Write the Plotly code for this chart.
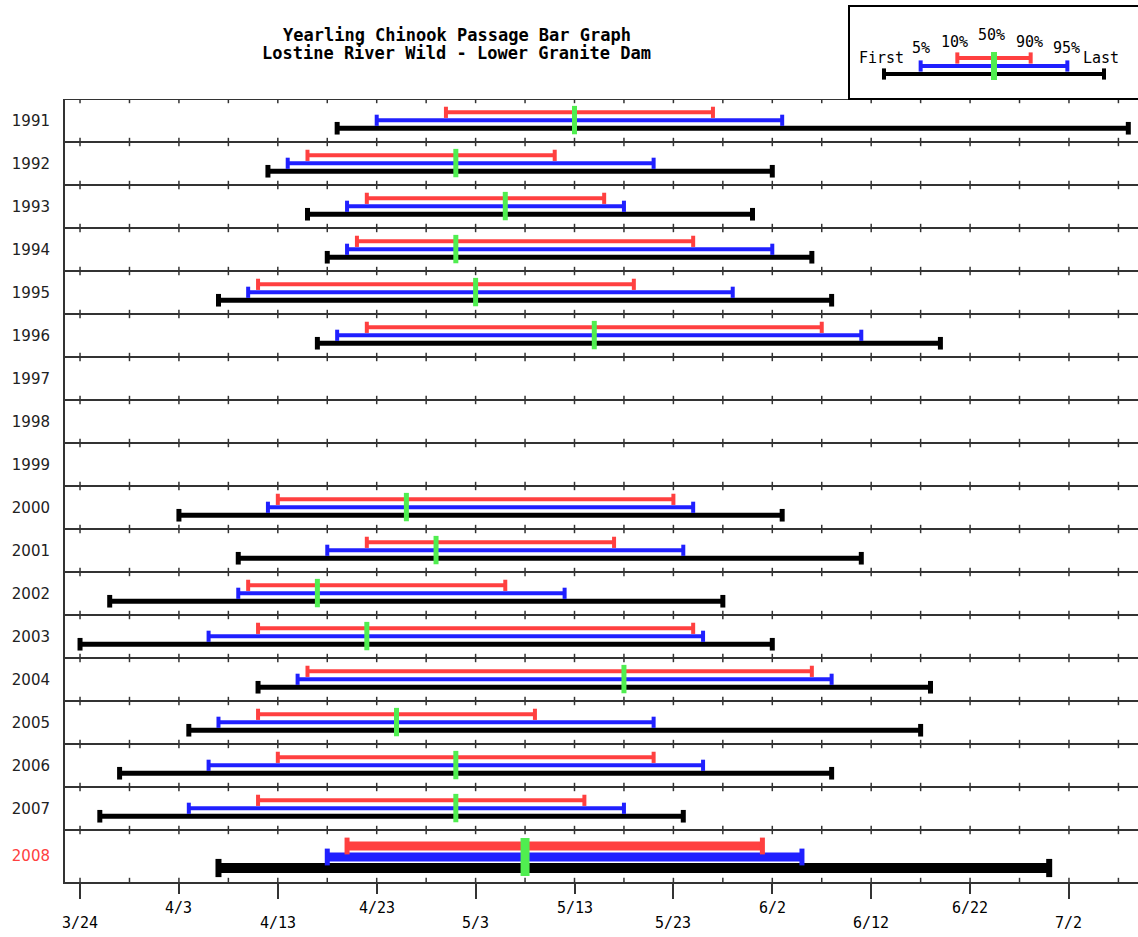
import plotly.graph_objects as go
from datetime import date

# ---------------- data ----------------
years = [1991, 1992, 1993, 1994, 1995, 1996, 1997, 1998, 1999,
         2000, 2001, 2002, 2003, 2004, 2005, 2006, 2007, 2008]
first = ["4/19", "4/12", "4/16", "4/18", "4/7", "4/17", None, None, None,
         "4/3", "4/9", "3/27", "3/24", "4/11", "4/4", "3/28", "3/26", "4/7"]
p5 = ["4/23", "4/14", "4/20", "4/20", "4/10", "4/19", None, None, None,
      "4/12", "4/18", "4/9", "4/6", "4/15", "4/7", "4/6", "4/4", "4/18"]
p10 = ["4/30", "4/16", "4/22", "4/21", "4/11", "4/22", None, None, None,
       "4/13", "4/22", "4/10", "4/11", "4/16", "4/11", "4/13", "4/11", "4/20"]
p50 = ["5/13", "5/1", "5/6", "5/1", "5/3", "5/15", None, None, None,
       "4/26", "4/29", "4/17", "4/22", "5/18", "4/25", "5/1", "5/1", "5/8"]
p90 = ["5/27", "5/11", "5/16", "5/25", "5/19", "6/7", None, None, None,
       "5/23", "5/17", "5/6", "5/25", "6/6", "5/9", "5/21", "5/14", "6/1"]
p95 = ["6/3", "5/21", "5/18", "6/2", "5/29", "6/11", None, None, None,
       "5/25", "5/24", "5/12", "5/26", "6/8", "5/21", "5/26", "5/18", "6/5"]
last = ["7/8", "6/2", "5/31", "6/6", "6/8", "6/19", None, None, None,
        "6/3", "6/11", "5/28", "6/2", "6/18", "6/17", "6/8", "5/24", "6/30"]
current_year = 2008

tick_upper = ["4/3", "4/23", "5/13", "6/2", "6/22"]
tick_lower = ["3/24", "4/13", "5/3", "5/23", "6/12", "7/2"]

legend_keys = ["First", "5%", "10%", "50%", "90%", "95%", "Last"]

title_lines = ["Yearling Chinook Passage Bar Graph",
               "Lostine River Wild - Lower Granite Dam"]

# ---------------- helpers ----------------
SEASON_START = date(2001, 3, 24)


def day(md):
    if md is None:
        return None
    m, d = (int(v) for v in md.split("/"))
    return (date(2001, m, d) - SEASON_START).days


RED, BLUE, BLACK, GREEN = "#ff4040", "#2020ff", "#000000", "#50ee50"
GRID = "#333333"
MONO = "DejaVu Sans Mono"
SANS = "DejaVu Sans"

# row geometry (1 unit = one normal row, current year row is taller)
BIG = 52 / 43
row_top = []
t = 0.0
for yr in years:
    row_top.append(t)
    t += BIG if yr == current_year else 1.0
y_bottom = t
boundaries = row_top + [y_bottom]
centers = [rt + ((BIG if yr == current_year else 1.0) / 2) for rt, yr in zip(row_top, years)]

NORMAL = dict(red=0.31, blue=0.495, black=0.68, g0=0.16, g1=0.82,
              w_rb=4, w_k=5, cap=8, capw=4, gw=5)
LARGE = dict(red=0.372, blue=0.628, black=0.884, g0=0.186, g1=1.07,
             w_rb=9, w_k=10, cap=12, capw=5, gw=9)

fig = go.Figure()


def add_segments(starts, ends, ys, color, width, cap, capw, xaxis="x", yaxis="y"):
    xs, yv = [], []
    for a, b, y in zip(starts, ends, ys):
        xs += [a, b, None]
        yv += [y, y, None]
    fig.add_trace(go.Scatter(
        x=xs, y=yv, mode="lines+markers", xaxis=xaxis, yaxis=yaxis,
        line=dict(color=color, width=width),
        marker=dict(symbol="line-ns", size=cap, color=color,
                    line=dict(color=color, width=capw)),
        hoverinfo="skip", showlegend=False, cliponaxis=False))


def add_medians(xs_, y0s, y1s, color, width, xaxis="x", yaxis="y"):
    xs, yv = [], []
    for x, a, b in zip(xs_, y0s, y1s):
        xs += [x, x, None]
        yv += [a, b, None]
    fig.add_trace(go.Scatter(
        x=xs, y=yv, mode="lines", xaxis=xaxis, yaxis=yaxis,
        line=dict(color=color, width=width),
        hoverinfo="skip", showlegend=False, cliponaxis=False))


# separator tick crosses (every 5 days on every row boundary)
five = list(range(0, 110, 5))
cx, cy = [], []
for b in boundaries:
    for f in five:
        cx.append(f)
        cy.append(b)
fig.add_trace(go.Scatter(
    x=cx, y=cy, mode="markers", xaxis="x3", yaxis="y",
    marker=dict(symbol="line-ns", size=6, color=GRID, line=dict(color=GRID, width=1.5)),
    hoverinfo="skip", showlegend=False, cliponaxis=True))

for group, style in ((False, NORMAL), (True, LARGE)):
    idx = [i for i, yr in enumerate(years)
           if (yr == current_year) == group and first[i] is not None]
    tops = [row_top[i] for i in idx]
    add_segments([day(first[i]) for i in idx], [day(last[i]) for i in idx],
                 [tp + style["black"] for tp in tops], BLACK, style["w_k"],
                 style["cap"] + 1, style["capw"] + 1)
    add_segments([day(p5[i]) for i in idx], [day(p95[i]) for i in idx],
                 [tp + style["blue"] for tp in tops], BLUE, style["w_rb"],
                 style["cap"], style["capw"])
    add_segments([day(p10[i]) for i in idx], [day(p90[i]) for i in idx],
                 [tp + style["red"] for tp in tops], RED, style["w_rb"],
                 style["cap"], style["capw"])
    add_medians([day(p50[i]) for i in idx],
                [tp + style["g0"] for tp in tops],
                [tp + style["g1"] for tp in tops], GREEN, style["gw"])

# row separators
shapes = []
for b in boundaries[:-1]:
    shapes.append(dict(type="line", xref="x domain", yref="y", x0=0, x1=1, y0=b, y1=b,
                       line=dict(color=GRID, width=2)))

# ---------------- legend sample ----------------
lx = list(range(len(legend_keys)))  # First..Last positions
add_segments([lx[0]], [lx[6]], [68], BLACK, 4, 8, 4, "x2", "y2")
add_segments([lx[1]], [lx[5]], [60], BLUE, 4, 8, 4, "x2", "y2")
add_segments([lx[2]], [lx[4]], [52], RED, 4, 8, 4, "x2", "y2")
add_medians([lx[3]], [46], [74], GREEN, 6, "x2", "y2")
legend_label_y = [52, 42, 36, 29, 36, 42, 52]
legend_label_dx = [-0.08, 0, -0.08, -0.08, -0.03, -0.03, -0.08]
annotations = []
for k, xv, yv, dx in zip(legend_keys, lx, legend_label_y, legend_label_dx):
    annotations.append(dict(text=k, x=xv + dx, y=yv, xref="x2", yref="y2",
                            showarrow=False, xanchor="center", yanchor="middle",
                            font=dict(family=MONO, size=15, color="black")))
shapes.append(dict(type="rect", xref="x2 domain", yref="y2 domain",
                   x0=0, x1=1.02, y0=0, y1=1, line=dict(color="black", width=2),
                   fillcolor="rgba(0,0,0,0)"))

# ---------------- x tick labels ----------------
for lab in tick_upper:
    annotations.append(dict(text=lab, x=day(lab), y=0, xref="x", yref="y domain",
                            yshift=-26, showarrow=False, xanchor="center", yanchor="middle",
                            font=dict(family=MONO, size=15, color="black")))
for lab in tick_lower:
    annotations.append(dict(text=lab, x=day(lab), y=0, xref="x", yref="y domain",
                            yshift=-41, showarrow=False, xanchor="center", yanchor="middle",
                            font=dict(family=MONO, size=15, color="black")))

W, H = 1138, 937
ML, MR, MT, MB = 65, 0, 0, 55
plot_h = H - MT - MB
main_top = (882 - 99) / plot_h

# ---------------- title ----------------
for line, ypx in zip(title_lines, [35, 53]):
    annotations.append(dict(text="<b>%s</b>" % line, x=(457 - ML) / (W - ML - MR),
                            y=(H - MB - ypx) / plot_h,
                            xref="paper", yref="paper", showarrow=False,
                            xanchor="center", yanchor="middle",
                            font=dict(family=MONO, size=17, color="black")))

ticktext = [('<span style="color:#ff4040">%d</span>' % yr) if yr == current_year else str(yr)
            for yr in years]

xr = [-1.52, 106.98]
fig.update_layout(
    width=W, height=H, margin=dict(l=ML, r=MR, t=MT, b=MB),
    paper_bgcolor="white", plot_bgcolor="white", showlegend=False,
    font=dict(family=MONO, color="black"),
    xaxis=dict(domain=[0, 1], range=xr, anchor="y", showline=True, linecolor=GRID,
               linewidth=2, ticks="outside", tickvals=[day(v) for v in tick_upper],
               ticklen=10, tickwidth=2, tickcolor=GRID, showticklabels=False,
               showgrid=False, zeroline=False),
    xaxis3=dict(overlaying="x", range=xr, anchor="y", side="bottom", showline=False,
                ticks="outside", tickvals=[day(v) for v in tick_lower], ticklen=16,
                tickwidth=2, tickcolor=GRID, showticklabels=False, showgrid=False,
                zeroline=False),
    yaxis=dict(domain=[0, main_top], range=[y_bottom, 0], anchor="x", showline=True,
               linecolor=GRID, linewidth=2, tickvals=centers, ticktext=ticktext,
               ticks="", ticklabelstandoff=10, showgrid=False, zeroline=False,
               tickfont=dict(family=SANS, size=15, color="#222222")),
    xaxis2=dict(domain=[(849 - ML) / (W - ML), 1], range=[-0.954, 6.927], anchor="y2",
                visible=False),
    yaxis2=dict(domain=[(882 - 99) / plot_h, (882 - 6) / plot_h], range=[93, 0],
                anchor="x2", visible=False),
    shapes=shapes, annotations=annotations,
)

fig.write_html("out.html", config={"displayModeBar": False},
               post_script="document.body.style.margin='0';document.body.style.overflow='hidden';")
